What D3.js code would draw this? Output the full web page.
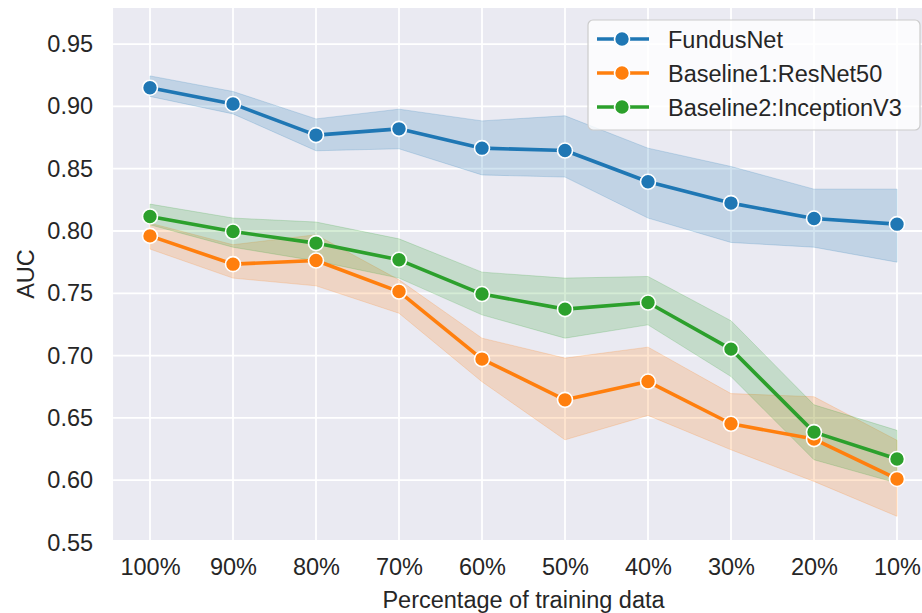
<!DOCTYPE html>
<html><head><meta charset="utf-8">
<script src="https://cdn.jsdelivr.net/npm/d3@7"></script>
<style>body{margin:0;background:#fff}svg{display:block}text{font-family:"Liberation Sans",Arial,sans-serif;fill:#262626}</style>
</head><body>
<svg id="c" width="922" height="613"></svg>
<script>
const categories = ["100%","90%","80%","70%","60%","50%","40%","30%","20%","10%"];
const seriesNames = ["FundusNet","Baseline1:ResNet50","Baseline2:InceptionV3"];
const fundusMean = [0.915,0.902,0.877,0.882,0.8665,0.8646,0.8395,0.8224,0.810,0.8055];
const fundusLow  = [0.908,0.894,0.8644,0.866,0.845,0.8433,0.8104,0.7908,0.787,0.775];
const fundusHigh = [0.9245,0.912,0.890,0.8978,0.8884,0.8925,0.8665,0.8518,0.8336,0.8336];
const resnetMean = [0.7961,0.7734,0.7763,0.7514,0.6972,0.6645,0.6792,0.6453,0.633,0.601];
const resnetLow  = [0.7855,0.7622,0.756,0.734,0.679,0.6324,0.652,0.6244,0.599,0.571];
const resnetHigh = [0.8063,0.789,0.797,0.7608,0.714,0.698,0.7068,0.6695,0.667,0.632];
const inceptMean = [0.8117,0.7996,0.7903,0.7769,0.7494,0.7373,0.7426,0.7052,0.6386,0.617];
const inceptLow  = [0.805,0.787,0.776,0.7622,0.7327,0.714,0.7247,0.6832,0.6164,0.5977];
const inceptHigh = [0.8216,0.8104,0.8072,0.7937,0.767,0.7622,0.7635,0.728,0.6605,0.640];
const yTicks = [0.55,0.60,0.65,0.70,0.75,0.80,0.85,0.90,0.95];
const colors = ["#1f77b4","#ff7f0e","#2ca02c"];

(function(){
const series = [
  {name:seriesNames[0], mean:fundusMean, low:fundusLow, high:fundusHigh, color:colors[0]},
  {name:seriesNames[1], mean:resnetMean, low:resnetLow, high:resnetHigh, color:colors[1]},
  {name:seriesNames[2], mean:inceptMean, low:inceptLow, high:inceptHigh, color:colors[2]}
];

const svg = d3.select("#c");
const x = d3.scalePoint().domain(categories).range([150, 897]);
const y = d3.scaleLinear().domain([0.552, 0.979]).range([540, 8]);
const step = x.step();
const pL = x(categories[0]) - step*0.445, pR = x(categories[categories.length-1]) + step*0.445;
const pT = y.range()[1], pB = y.range()[0];

svg.append("rect").attr("x", pL).attr("y", pT).attr("width", pR-pL).attr("height", pB-pT).attr("fill", "#EAEAF2");

const grid = svg.append("g");
grid.selectAll(".gy").data(yTicks).join("line").attr("class","gy")
  .attr("x1", pL).attr("x2", pR).attr("y1", d=>y(d)).attr("y2", d=>y(d))
  .attr("stroke", "#fff").attr("stroke-width", 1.8);
grid.selectAll(".gx").data(categories).join("line").attr("class","gx")
  .attr("x1", d=>x(d)).attr("x2", d=>x(d)).attr("y1", pT).attr("y2", pB)
  .attr("stroke", "#fff").attr("stroke-width", 1.8);

const yAxis = d3.axisLeft(y).tickValues(yTicks).tickFormat(d3.format(".2f")).tickSize(0).tickPadding(20);
const ga = svg.append("g").attr("transform", `translate(${pL},0)`).call(yAxis);
const xAxis = d3.axisBottom(x).tickSize(0).tickPadding(18);
const gx = svg.append("g").attr("transform", `translate(0,${pB})`).call(xAxis);
[ga, gx].forEach(g => { g.select(".domain").remove(); g.selectAll("text").style("font-size","23.5px").attr("fill","#262626"); });

svg.append("text").attr("x", (pL+pR)/2).attr("y", 608).attr("text-anchor","middle").style("font-size","23.5px").text("Percentage of training data");
svg.append("text").attr("transform", `translate(34,${(pT+pB)/2}) rotate(-90)`).attr("text-anchor","middle").style("font-size","23.5px").text("AUC");

const area = d3.area().x((d,i)=>x(categories[i])).y0(d=>y(d[0])).y1(d=>y(d[1]));
series.forEach(s => {
  const pts = s.low.map((l,i)=>[l, s.high[i]]);
  svg.append("path").datum(pts).attr("d", area)
    .attr("fill", s.color).attr("fill-opacity", 0.2)
    .attr("stroke", s.color).attr("stroke-opacity", 0.2).attr("stroke-width", 1);
});
const line = d3.line().x((d,i)=>x(categories[i])).y(d=>y(d));
series.forEach(s => {
  svg.append("path").datum(s.mean).attr("d", line).attr("fill","none")
    .attr("stroke", s.color).attr("stroke-width", 3.6).attr("stroke-linejoin","round").attr("stroke-linecap","round");
  svg.append("g").selectAll("circle").data(s.mean).join("circle")
    .attr("cx", (d,i)=>x(categories[i])).attr("cy", d=>y(d)).attr("r", 7.5)
    .attr("fill", s.color).attr("stroke", "#fff").attr("stroke-width", 1.6);
});

const lg = svg.append("g");
lg.append("rect").attr("x", 588).attr("y", 20).attr("width", 332).attr("height", 110).attr("rx", 5)
  .attr("fill", "#fff").attr("fill-opacity", 0.8).attr("stroke", "#cccccc").attr("stroke-width", 1.2);
series.forEach((s, i) => {
  const cy = 39 + i*34;
  lg.append("line").attr("x1", 597).attr("x2", 649).attr("y1", cy).attr("y2", cy).attr("stroke", s.color).attr("stroke-width", 3.6);
  lg.append("circle").attr("cx", 622).attr("cy", cy).attr("r", 7.5).attr("fill", s.color).attr("stroke","#fff").attr("stroke-width",1.6);
  lg.append("text").attr("x", 668).attr("y", cy + 8.5).style("font-size","23.5px").text(s.name);
});
})();
</script>
</body></html>
